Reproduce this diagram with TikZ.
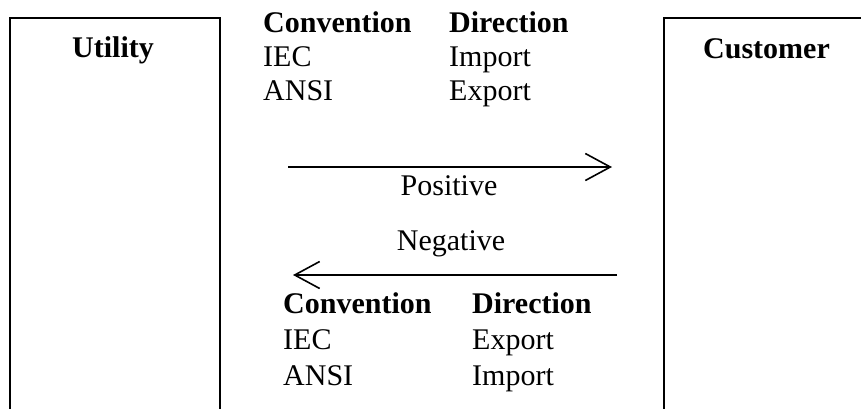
\documentclass[tikz,border=0pt]{standalone}
\usepackage{fontspec}
\setmainfont{Liberation Serif}
\usetikzlibrary{arrows.meta}
\tikzset{
  party/.style={draw, line width=1.6pt, inner sep=0pt},
  lbl/.style={anchor=base west, inner sep=0pt, font=\fontsize{30}{35}\selectfont},
  hdr/.style={lbl, font=\fontsize{30}{35}\selectfont\bfseries},
  flow/.style={line width=1.6pt, -{Straight Barb[length=25pt,width=27pt]}},
}
\begin{document}
\begin{tikzpicture}[x=1pt,y=-1pt]
\useasboundingbox (0,0) rectangle (861,408);
\clip (0,0) rectangle (861,408);
% parties (boxes run past the lower/right edge)
\node[party, minimum width=210pt, minimum height=423pt, anchor=north west] (utility) at (9,17) {};
\node[party, minimum width=230pt, minimum height=423pt, anchor=north west] (customer) at (663,17) {};
\node[hdr, anchor=base] (utxt) at (113,57) {Utility};
\node[hdr] (ctxt) at (703,58) {Customer};
% upper table
\node[hdr] (c1) at (263,32) {Convention};
\node[hdr] (d1) at (449,32) {Direction};
\node[lbl] (c1a) at (263,66) {IEC};
\node[lbl] (d1a) at (449,66) {Import};
\node[lbl] (c1b) at (263,100) {ANSI};
\node[lbl] (d1b) at (449,100) {Export};
% arrows
\coordinate (pa) at (288,167);
\coordinate (pb) at (612,167);
\draw[flow] (pa) -- (pb);
\node[lbl, anchor=base] (pos) at (449,195) {Positive};
\node[lbl, anchor=base] (neg) at (451,250) {Negative};
\coordinate (na) at (617,275);
\coordinate (nb) at (293,275);
\draw[flow] (na) -- (nb);
% lower table
\node[hdr] (c2) at (283,313) {Convention};
\node[hdr] (d2) at (472,313) {Direction};
\node[lbl] (c2a) at (283,349) {IEC};
\node[lbl] (d2a) at (472,349) {Export};
\node[lbl] (c2b) at (283,385) {ANSI};
\node[lbl] (d2b) at (472,385) {Import};
\end{tikzpicture}
\end{document}
